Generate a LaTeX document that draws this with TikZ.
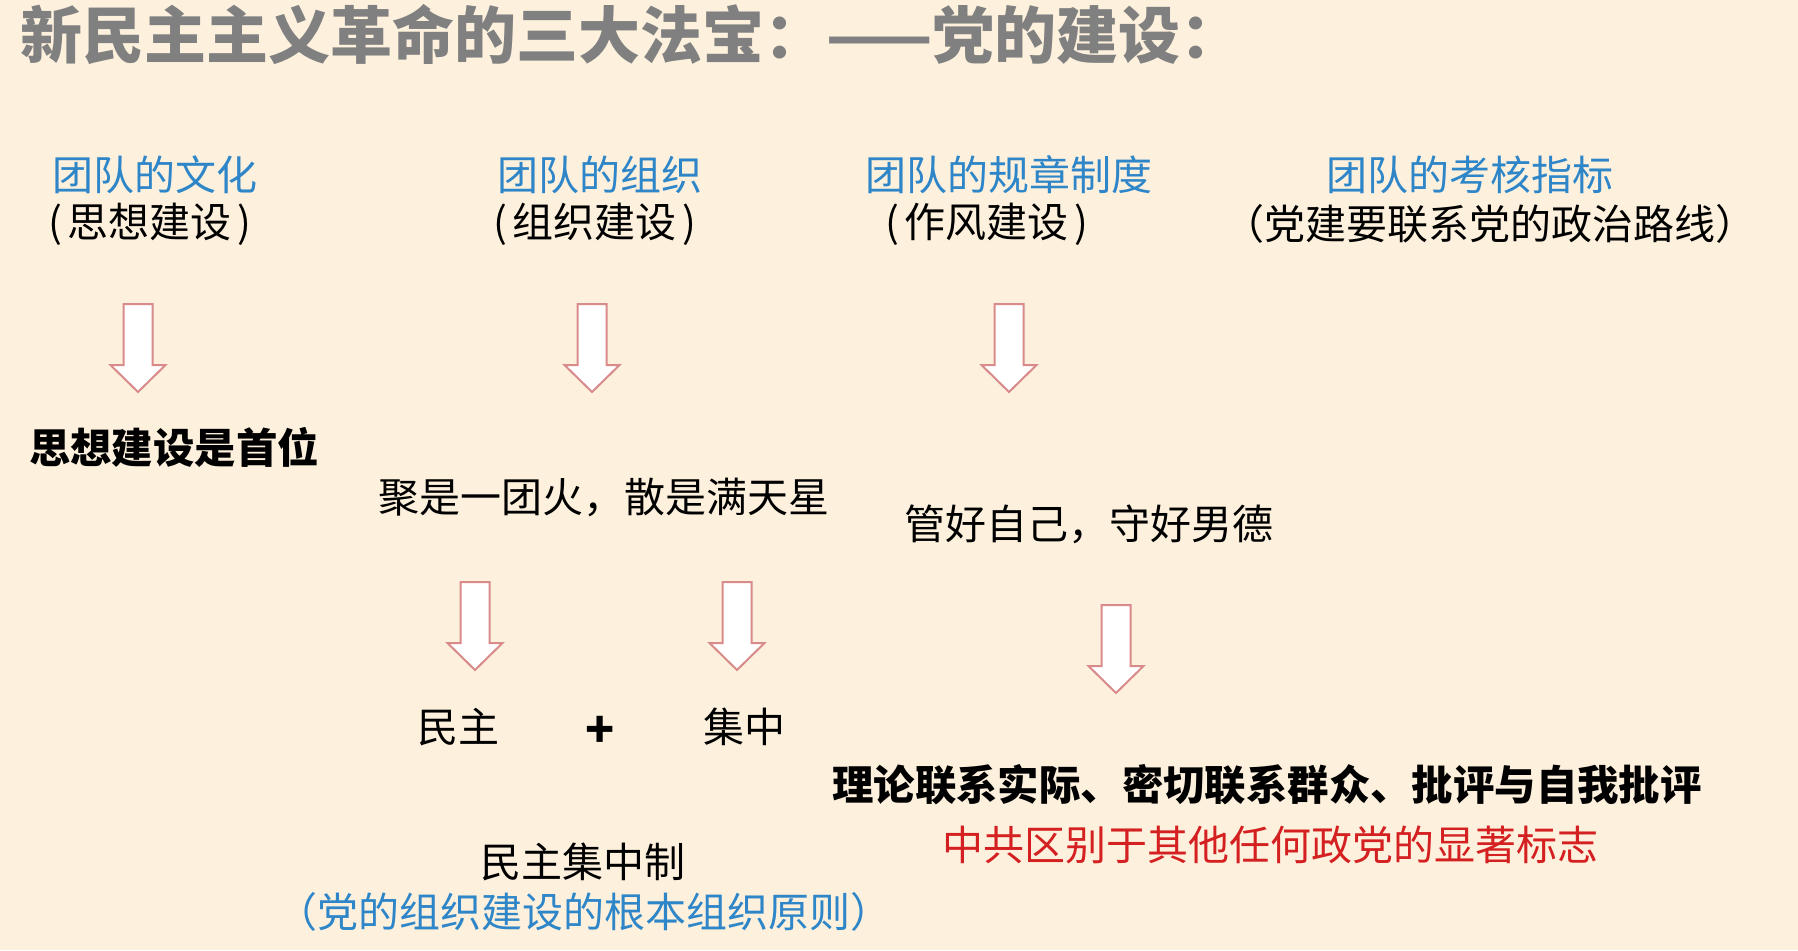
\documentclass[tikz,border=0pt]{standalone}
\usepackage{fontspec}
\setmainfont{Noto Sans CJK SC}
\newfontfamily\cjk{Noto Sans CJK SC}
\definecolor{bgc}{HTML}{FDF1DE}
\definecolor{bluec}{HTML}{2E86C8}
\definecolor{redc}{HTML}{D42020}
\definecolor{arrc}{HTML}{D98A8A}
\definecolor{titlec}{HTML}{808080}
\tikzset{
  txt/.style={inner sep=0pt,font=\cjk\fontsize{20.5pt}{24pt}\selectfont,text=black},
  head/.style={txt,text=bluec},
  boldtxt/.style={txt,font=\cjk\bfseries\fontsize{20.7pt}{24pt}\selectfont},
  titlesty/.style={inner sep=0pt,anchor=west,font=\cjk\bfseries\fontsize{31pt}{36pt}\selectfont,text=titlec},
  arrowsty/.style={draw=arrc,fill=white,line width=1pt,line join=miter}
}
\newcommand\blockarrow[2]{%
  \draw[arrowsty,shift={(#1,#2)}] (-14.5,0) -- (14.5,0) -- (14.5,61) -- (27.5,61) -- (0,88) -- (-27.5,61) -- (-14.5,61) -- cycle;}
\newcommand\lp{(\kern3pt}
\newcommand\rp{\kern3pt)}
\begin{document}
\begin{tikzpicture}[x=0.5pt,y=-0.5pt]
\fill[bgc] (0,0) rectangle (1798,950);
\useasboundingbox (0,0) rectangle (1798,950);
\node[titlesty] (title) at (20,35) {新民主主义革命的三大法宝：——党的建设：};
% headings
\node[head] (h1) at (155,175) {团队的文化};
\node[txt]  (s1) at (150,224) {\lp 思想建设\rp};
\node[head] (h2) at (600,175) {团队的组织};
\node[txt]  (s2) at (595,224) {\lp 组织建设\rp};
\node[head] (h3) at (1009,175) {团队的规章制度};
\node[txt]  (s3) at (987,224) {\lp 作风建设\rp};
\node[head] (h4) at (1470,175) {团队的考核指标};
\node[txt]  (s4) at (1490,224) {（党建要联系党的政治路线）};
% arrows
\blockarrow{138}{304}
\blockarrow{592}{304}
\blockarrow{1009}{304}
\blockarrow{475}{582}
\blockarrow{737}{582}
\blockarrow{1116}{605}
% second level
\node[boldtxt] (t1) at (174,447) {思想建设是首位};
\node[txt] (t2) at (604,497) {聚是一团火，散是满天星};
\node[txt] (t3) at (1089,524) {管好自己，守好男德};
\node[txt] (m1) at (458,727) {民主};
\node[txt,font=\cjk\bfseries\fontsize{24pt}{28pt}\selectfont] (plus) at (600,732) {+};
\node[txt] (m2) at (744,727) {集中};
\node[boldtxt] (t4) at (1267,785) {理论联系实际、密切联系群众、批评与自我批评};
\node[txt,text=redc] (t5) at (1270,845) {中共区别于其他任何政党的显著标志};
\node[txt] (t6) at (583,862) {民主集中制};
\node[txt,text=bluec,font=\cjk\fontsize{20.5pt}{24pt}\selectfont] (t7) at (584,912) {（党的组织建设的根本组织原则）};
\end{tikzpicture}
\end{document}
